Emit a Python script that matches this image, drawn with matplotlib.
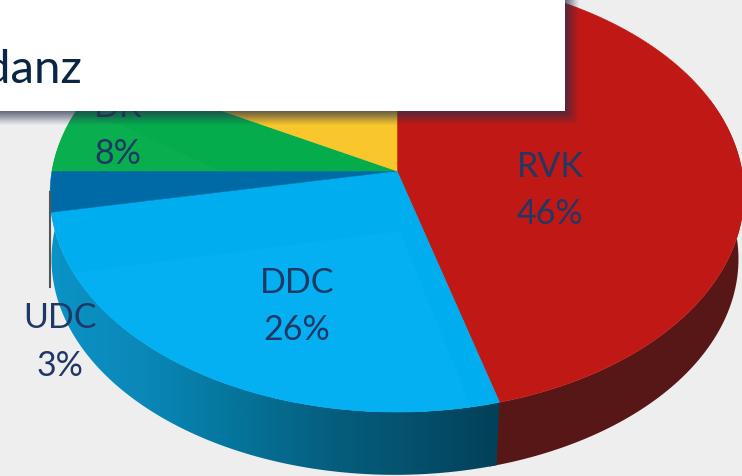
import numpy as np
import matplotlib
matplotlib.use("Agg")
import matplotlib.pyplot as plt
from matplotlib.colors import LinearSegmentedColormap
from matplotlib.patches import Polygon, Rectangle, FancyBboxPatch

# slice shares as drawn in the picture (going clockwise from the top)
slice_names = ["RVK", "DDC", "UDC", "DK", "other"]
slice_shares = [45.7, 26.3, 3, 8, 17]
slice_percent = ["46%", "26%", "3%", "8%", ""]
slice_colors = ["#C01815", "#00ADEF", "#006AA6", "#04AC4C", "#F9C62B"]
title_tail = "danz"

plt.rcParams["font.family"] = ["Lato", "DejaVu Sans"]
ink = "#1F3864"

fig = plt.figure(figsize=(7.42, 4.77), dpi=100, facecolor="#EEEEEE")
ax = fig.add_axes([0, 0, 1, 1])
ax.set_axis_off()

# perspective view of the pie, apex is not the middle of the ellipse
apex_x, apex_y = 397, 172
k = 0.1055
a, b = 345, 215.6


def top_face(theta):
    u, v = np.sin(theta), np.cos(theta)
    w = 1 + k * v
    return apex_x + a * u / w, apex_y - b * v / w


def under_face(theta):
    x, y = top_face(theta)
    return 395 + (x - apex_x) * 0.99, 195 + (y - 195) * 0.99 + 65


def wedge(t0, t1):
    t = np.linspace(t0, t1, 120)
    x, y = top_face(t)
    return np.column_stack([np.r_[apex_x, x], np.r_[apex_y, y]])


def wall(t0, t1):
    t = np.linspace(t0, t1, 120)
    x, y = top_face(t)
    x2, y2 = under_face(t)
    return np.column_stack([np.r_[x, x2[::-1]], np.r_[y, y2[::-1]]])


edges = np.r_[0, np.cumsum(slice_shares)] / np.sum(slice_shares) * 2 * np.pi

# side walls first
ax.add_patch(Polygon(wall(np.radians(70), edges[1] + 0.02), color="#581717", lw=0))
blue_wall = Polygon(wall(edges[1], edges[2] + 0.25), color="none", lw=0)
ax.add_patch(blue_wall)
cmap = LinearSegmentedColormap.from_list(
    "wall", ["#0B93C6", "#0A88B8", "#05759C", "#055F80", "#04506C", "#033E56"])
grad = ax.imshow(np.linspace(0, 1, 256).reshape(1, -1), cmap=cmap, aspect="auto",
                 extent=[50, 510, 477, 200], zorder=1)
grad.set_clip_path(blue_wall)

wedges = []
for i, name in enumerate(slice_names):
    w = Polygon(wedge(edges[i], edges[i + 1]), color=slice_colors[i], lw=0.4, zorder=2)
    ax.add_patch(w)
    wedges.append(w)

# faint lighter facets on the top face, kept inside their slice
ddc_facet = Polygon([[40, 278], [400, 232], [480, 430], [40, 430]],
                    color="#04B0F2", lw=0, zorder=2)
ax.add_patch(ddc_facet)
ddc_facet.set_clip_path(wedges[1])
dk_facet = Polygon([[40, 172], [220, 172], [120, 125], [40, 110]],
                   color="#09AE4F", lw=0, zorder=2)
ax.add_patch(dk_facet)
dk_facet.set_clip_path(wedges[3])

# leader line of the small slice
ax.plot([50, 50], [193, 288], color="#555555", lw=1.5, zorder=3)

label_pos = {"RVK": (550, 167, 214), "DDC": (297, 283, 330), "UDC": (60, 318, 366), "DK": (118, 107, 154)}
for name, pct in zip(slice_names, slice_percent):
    if name in label_pos:
        x, y1, y2 = label_pos[name]
        ax.text(x, y1, name, color=ink, fontsize=24.5, ha="center", va="center", zorder=4)
        ax.text(x, y2, pct, color=ink, fontsize=24.5, ha="center", va="center", zorder=4)

# blurred shadow under the white box
for grow, alpha in zip(np.linspace(14, 1, 12), np.linspace(0.04, 0.14, 12)):
    ax.add_patch(FancyBboxPatch((-40, -40), 605 + grow, 152 + grow,
                                boxstyle="round,pad=0,rounding_size=6",
                                fc="#2B3350", ec="none", alpha=alpha, zorder=5))
ax.add_patch(Rectangle((-40, -40), 605, 152, fc="white", ec="none", zorder=6))
ax.text(82, 83, title_tail, color="#0B2545", fontsize=34, ha="right", va="baseline", zorder=7)

ax.set_xlim(0, 742)
ax.set_ylim(477, 0)

fig.savefig("out.png", dpi=100, facecolor=fig.get_facecolor())
